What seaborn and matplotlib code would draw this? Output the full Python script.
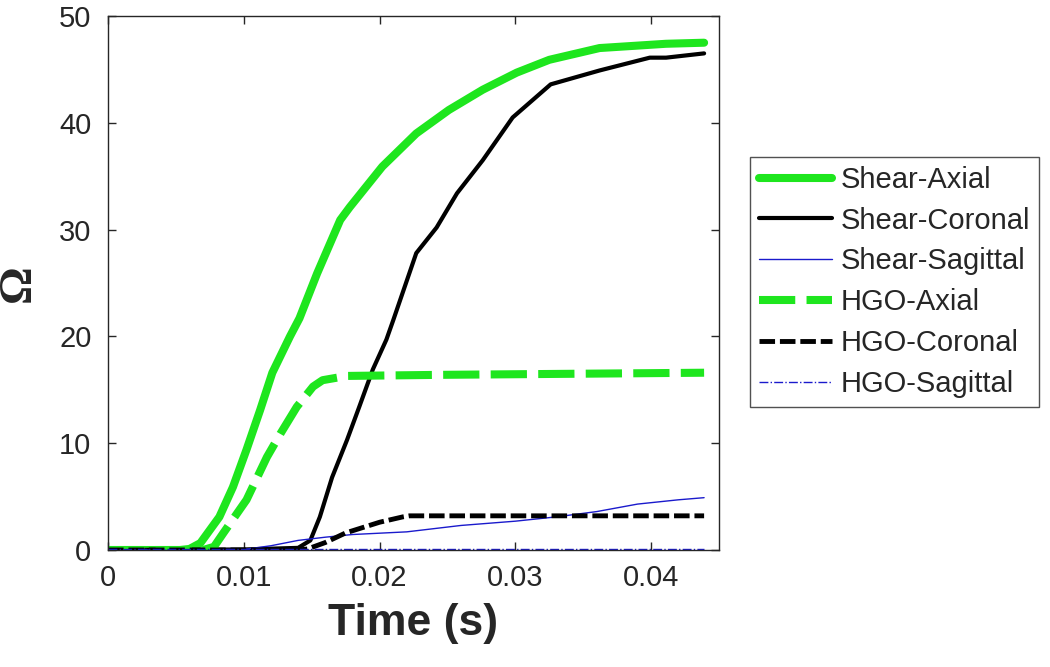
import matplotlib
matplotlib.use("Agg")
import matplotlib.pyplot as plt
import seaborn as sns

# Shear-Axial
t_shear_axial = [0.0, 0.0053, 0.0060, 0.0068, 0.0082, 0.0092, 0.0102, 0.0112, 0.0121,
                 0.0134, 0.0141, 0.0154, 0.0171, 0.0178, 0.0202, 0.0227, 0.0251,
                 0.0276, 0.0301, 0.0325, 0.0362, 0.0411, 0.0439]
v_shear_axial = [0.0, 0.0, 0.1, 0.65, 3.1, 5.9, 9.4, 13.1, 16.6,
                 20.0, 21.7, 25.9, 30.9, 32.1, 35.9, 39.0, 41.2,
                 43.1, 44.7, 45.9, 47.0, 47.4, 47.5]

# Shear-Coronal
t_shear_coronal = [0.0, 0.0100, 0.0140, 0.0149, 0.0156, 0.0165, 0.0176, 0.0185, 0.0195,
                   0.0205, 0.0210, 0.0227, 0.0242, 0.0257, 0.0276, 0.0298, 0.0326,
                   0.0362, 0.0399, 0.0411, 0.0439]
v_shear_coronal = [0.0, 0.05, 0.2, 0.9, 3.1, 6.8, 10.3, 13.4, 16.9,
                   19.7, 21.5, 27.8, 30.2, 33.4, 36.5, 40.5, 43.6,
                   44.9, 46.1, 46.1, 46.5]

# Shear-Sagittal
t_shear_sagittal = [0.0, 0.0100, 0.0120, 0.0140, 0.0160, 0.0180, 0.0220, 0.0260,
                    0.0300, 0.0330, 0.0360, 0.0390, 0.0420, 0.0439]
v_shear_sagittal = [0.0, 0.05, 0.4, 0.9, 1.2, 1.45, 1.7, 2.3,
                    2.7, 3.1, 3.6, 4.3, 4.7, 4.9]

# HGO-Axial
t_hgo_axial = [0.0, 0.0070, 0.0078, 0.0085, 0.0102, 0.0117, 0.0127, 0.0139, 0.0151,
               0.0158, 0.0176, 0.0244, 0.0439]
v_hgo_axial = [0.0, 0.0, 0.3, 1.6, 4.7, 8.7, 10.9, 13.4, 15.3,
               15.9, 16.3, 16.4, 16.6]

# HGO-Coronal
t_hgo_coronal = [0.0, 0.0140, 0.0147, 0.0160, 0.0175, 0.0200, 0.0217, 0.0222, 0.0439]
v_hgo_coronal = [0.0, 0.0, 0.1, 0.7, 1.6, 2.6, 3.1, 3.2, 3.2]

# HGO-Sagittal
t_hgo_sagittal = [0.0, 0.0439]
v_hgo_sagittal = [0.05, 0.05]

sns.set_style("ticks")
plt.rcParams['font.family'] = ['Liberation Sans', 'DejaVu Sans']

fig = plt.figure(figsize=(10.5, 6.67), dpi=100)
ax = fig.add_axes([0.1029, 0.1754, 0.5819, 0.8006])

green = "#1ee61e"
blue = "#1a1acc"

sns.lineplot(x=t_shear_axial, y=v_shear_axial, ax=ax, color=green, linewidth=5.8,
             label="Shear-Axial", sort=False)
sns.lineplot(x=t_shear_coronal, y=v_shear_coronal, ax=ax, color="black", linewidth=3.0,
             label="Shear-Coronal", sort=False)
sns.lineplot(x=t_shear_sagittal, y=v_shear_sagittal, ax=ax, color=blue, linewidth=1.0,
             label="Shear-Sagittal", sort=False)
sns.lineplot(x=t_hgo_axial, y=v_hgo_axial, ax=ax, color=green, linewidth=5.8,
             linestyle=(0, (4.5, 1.4)), label="HGO-Axial", sort=False)
sns.lineplot(x=t_hgo_coronal, y=v_hgo_coronal, ax=ax, color="black", linewidth=3.5,
             linestyle=(0, (3.2, 1.0)), label="HGO-Coronal", sort=False)
sns.lineplot(x=t_hgo_sagittal, y=v_hgo_sagittal, ax=ax, color=blue, linewidth=1.0,
             linestyle="-.", label="HGO-Sagittal", sort=False)

ax.set_xlim(0, 0.045)
ax.set_ylim(0, 50)
ax.set_xticks([0, 0.01, 0.02, 0.03, 0.04])
ax.set_xticklabels(["0", "0.01", "0.02", "0.03", "0.04"])
ax.set_yticks([0, 10, 20, 30, 40, 50])

for side in ["top", "right", "left", "bottom"]:
    ax.spines[side].set_visible(True)
    ax.spines[side].set_color("#262626")
    ax.spines[side].set_linewidth(1.0)

ax.tick_params(direction="in", length=6, width=1, top=True, right=True,
               labelsize=21, colors="#262626", pad=10)
ax.tick_params(axis="y", pad=12)

ax.set_xlabel("Time (s)", fontsize=32, fontweight="bold", color="#262626", labelpad=8)
ax.set_ylabel("Ω", fontsize=34, fontweight="bold", color="#262626",
              family=["Liberation Serif", "DejaVu Serif"])
ax.yaxis.set_label_coords((40 - 108) / 611, 0.5)

ax.get_legend().remove()
handles, labels = ax.get_legend_handles_labels()
leg = fig.legend(handles, labels, loc="upper left",
                 bbox_to_anchor=(750 / 1050, 1 - 157 / 667),
                 bbox_transform=fig.transFigure,
                 fontsize=21, frameon=True, fancybox=False, edgecolor="#262626",
                 handlelength=2.5, handletextpad=0.3, borderaxespad=0,
                 borderpad=0.3, labelspacing=0.44)
leg.get_frame().set_linewidth(1.0)

plt.savefig("out.png", dpi=100)
plt.close()
